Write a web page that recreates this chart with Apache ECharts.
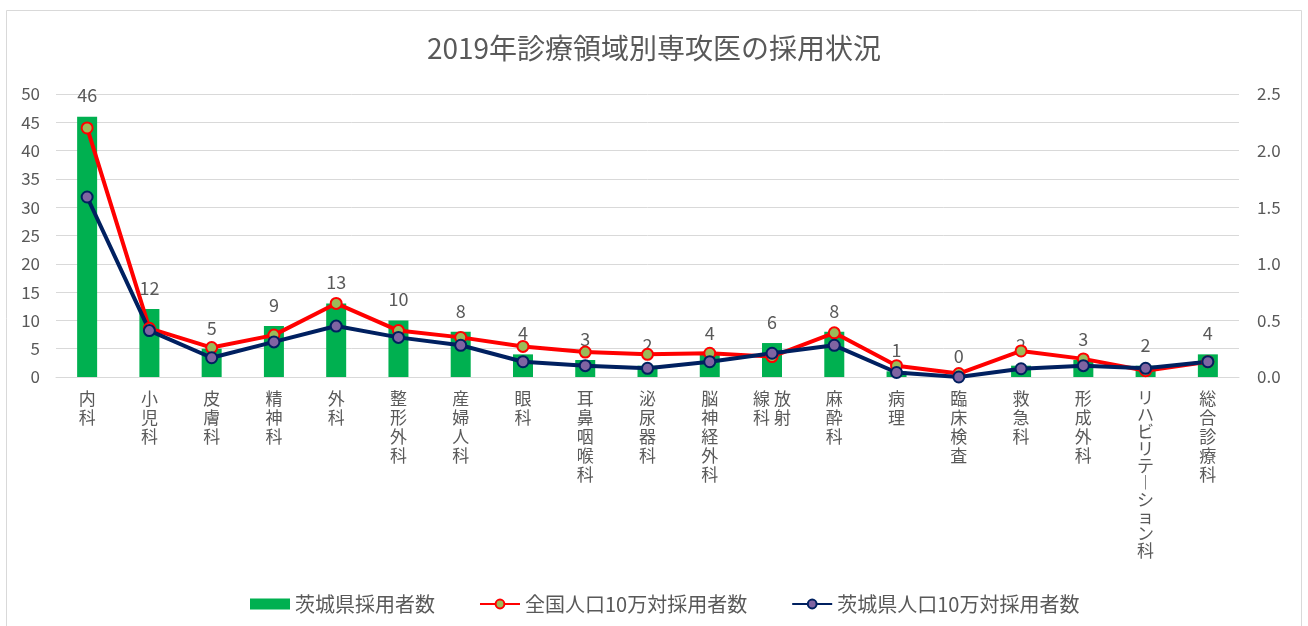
<!DOCTYPE html>
<html>
<head>
<meta charset="utf-8">
<script src="https://cdn.jsdelivr.net/npm/echarts@6/dist/echarts.min.js"></script>
<style>
  html, body { margin: 0; padding: 0; background: #fff; }
  #main { width: 1308px; height: 626px; }
</style>
</head>
<body>
<div id="main"></div>
<script>
// 診療領域
const categories = [
  "内科", "小児科", "皮膚科", "精神科", "外科", "整形外科", "産婦人科", "眼科",
  "耳鼻咽喉科", "泌尿器科", "脳神経外科", "放射線科", "麻酔科", "病理", "臨床検査",
  "救急科", "形成外科", "リハビリテーション科", "総合診療科"
];
// 茨城県採用者数 (左軸)
const ibarakiCount = [46, 12, 5, 9, 13, 10, 8, 4, 3, 2, 4, 6, 8, 1, 0, 2, 3, 2, 4];
// 全国人口10万対採用者数 (右軸)
const nationalPer100k = [2.20, 0.43, 0.26, 0.37, 0.65, 0.41, 0.35, 0.27, 0.22, 0.20, 0.21, 0.18, 0.39, 0.10, 0.03, 0.23, 0.16, 0.055, 0.135];
// 茨城県人口10万対採用者数 (右軸)
const ibarakiPer100k = [1.59, 0.41, 0.17, 0.31, 0.45, 0.35, 0.28, 0.135, 0.10, 0.077, 0.135, 0.21, 0.28, 0.04, 0.0, 0.073, 0.10, 0.077, 0.135];

const leftTicks = { min: 0, max: 50, interval: 5 };
const rightTicks = { min: 0, max: 2.5, interval: 0.5 };

const fontFamily = "'Noto Sans CJK JP', 'Noto Sans', sans-serif";
const textColor = "#595959";

// 縦書きラベル (放射線科は2列で折り返し、カタカナは詰める)
const verticalLabel = (name) => {
  if (name === "放射線科") return "線 放\n科 射";
  const text = name.split("").map((c) => (c === "ー" ? "︱" : c)).join("\n");
  if (/[ァ-ヶ]/.test(name)) return "{kana|" + text + "}";
  return text;
};

const chart = echarts.init(document.getElementById("main"));
chart.setOption({
  backgroundColor: "#ffffff",
  textStyle: { fontFamily: fontFamily },
  animation: false,
  title: {
    text: "2019年診療領域別専攻医の採用状況",
    left: "center",
    top: 29,
    textStyle: {
      fontFamily: fontFamily,
      fontSize: 28,
      fontWeight: "normal",
      color: textColor,
    },
  },
  graphic: [
    {
      type: "rect",
      shape: { x: 6.5, y: 10.5, width: 1295, height: 630 },
      style: { fill: "none", stroke: "#d9d9d9", lineWidth: 1 },
      silent: true,
    },
  ],
  grid: {
    left: 56,
    right: 69,
    top: 94,
    bottom: 249,
  },
  legend: {
    left: 245,
    top: 589,
    itemWidth: 40,
    itemHeight: 11,
    itemGap: 44,
    textStyle: {
      fontFamily: fontFamily,
      fontSize: 20,
      color: textColor,
    },
    data: [
      { name: "茨城県採用者数", icon: "rect" },
      { name: "全国人口10万対採用者数" },
      { name: "茨城県人口10万対採用者数" },
    ],
  },
  xAxis: [
    {
      type: "category",
      data: categories,
      axisLine: { show: true, lineStyle: { color: "#d9d9d9" } },
      axisTick: { show: false },
      axisLabel: {
        interval: 0,
        margin: 12,
        fontFamily: fontFamily,
        fontSize: 17,
        lineHeight: 19,
        color: textColor,
        verticalAlign: "top",
        formatter: verticalLabel,
        rich: {
          kana: {
            fontFamily: fontFamily,
            fontSize: 17,
            lineHeight: 17,
            color: textColor,
          },
        },
      },
    },
  ],
  yAxis: [
    {
      type: "value",
      min: leftTicks.min,
      max: leftTicks.max,
      interval: leftTicks.interval,
      axisLine: { show: false },
      axisTick: { show: false },
      axisLabel: {
        margin: 16,
        fontFamily: fontFamily,
        fontSize: 17,
        color: textColor,
      },
      splitLine: { show: true, lineStyle: { color: "#d9d9d9", width: 1 } },
    },
    {
      type: "value",
      min: rightTicks.min,
      max: rightTicks.max,
      interval: rightTicks.interval,
      axisLine: { show: false },
      axisTick: { show: false },
      splitLine: { show: false },
      axisLabel: {
        margin: 18,
        fontFamily: fontFamily,
        fontSize: 17,
        color: textColor,
        formatter: (v) => v.toFixed(1),
      },
    },
  ],
  series: [
    {
      name: "茨城県採用者数",
      type: "bar",
      yAxisIndex: 0,
      barWidth: 20,
      itemStyle: { color: "#00b050" },
      label: {
        show: true,
        position: "top",
        distance: 12,
        fontFamily: fontFamily,
        fontSize: 18,
        color: textColor,
      },
      data: ibarakiCount,
    },
    {
      name: "全国人口10万対採用者数",
      type: "line",
      yAxisIndex: 1,
      symbol: "circle",
      symbolSize: 11,
      lineStyle: { color: "#ff0000", width: 4 },
      itemStyle: { color: "#9bbb59", borderColor: "#ff0000", borderWidth: 2 },
      data: nationalPer100k,
    },
    {
      name: "茨城県人口10万対採用者数",
      type: "line",
      yAxisIndex: 1,
      symbol: "circle",
      symbolSize: 11,
      lineStyle: { color: "#002060", width: 4 },
      itemStyle: { color: "#8064a2", borderColor: "#002060", borderWidth: 2 },
      data: ibarakiPer100k,
    },
  ],
});
window.addEventListener("resize", () => chart.resize());
</script>
</body>
</html>
